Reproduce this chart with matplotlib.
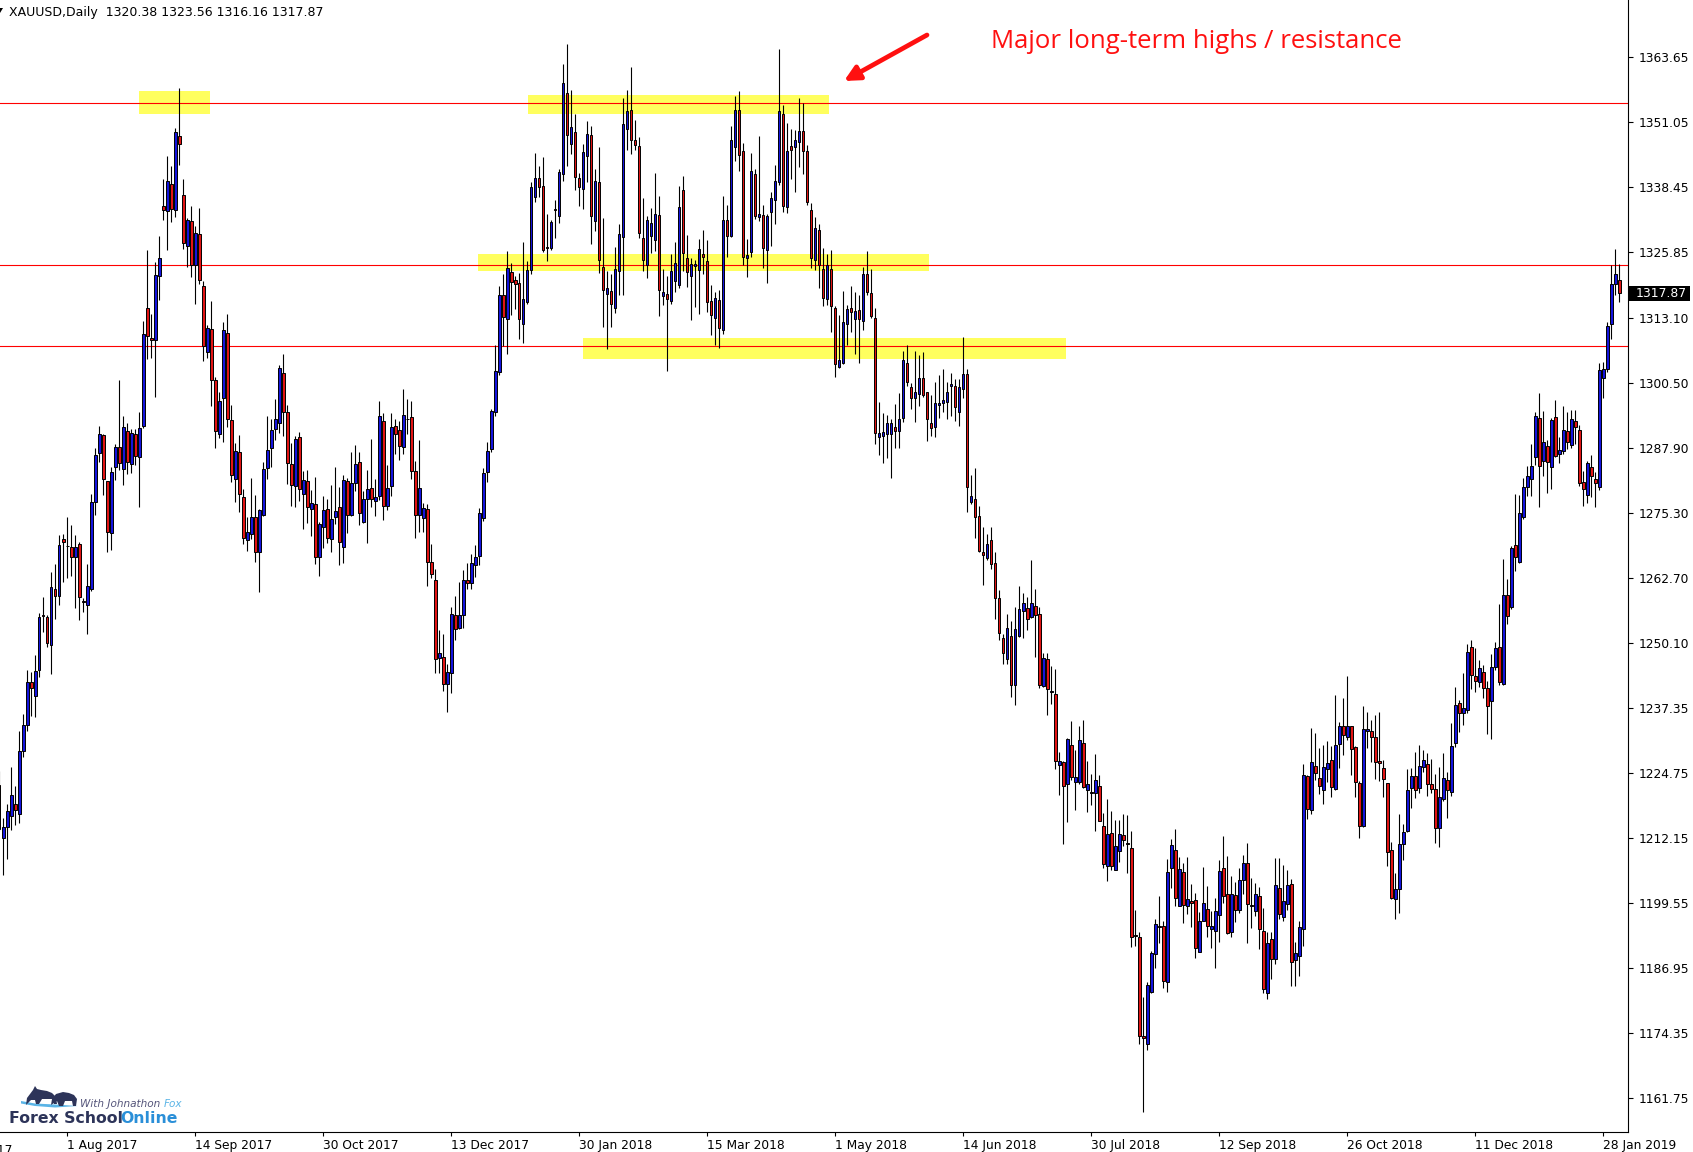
import numpy as np
import matplotlib
matplotlib.use('Agg')
import matplotlib.pyplot as plt
from matplotlib.patches import Rectangle, Polygon
from matplotlib.transforms import blended_transform_factory

W, H = 1693, 1152

# XAUUSD daily bars (first one is only partly visible at the left edge)
first_bar = -1
opens = [
    1222.5, 1212.1, 1214.3, 1216.5, 1218.8, 1216.8, 1229.0, 1234.2, 1242.4, 1239.8,
    1244.7, 1255.5, 1255.0, 1249.7, 1260.5, 1259.1, 1270.2, 1268.9, 1268.6, 1266.6,
    1269.2, 1258.2, 1257.3, 1260.5, 1277.4, 1286.8, 1290.3, 1281.4, 1271.4, 1284.1,
    1288.1, 1283.8, 1291.1, 1284.7, 1290.6, 1286.1, 1292.2, 1315.0, 1309.2, 1308.7,
    1321.3, 1334.7, 1333.8, 1339.1, 1334.1, 1348.4, 1337.0, 1327.1, 1331.9, 1323.3,
    1329.4, 1319.2, 1306.5, 1310.9, 1301.0, 1290.6, 1297.5, 1310.1, 1293.3, 1281.8,
    1287.0, 1278.4, 1269.9, 1271.2, 1274.4, 1267.7, 1274.8, 1283.9, 1287.8, 1291.6,
    1292.7, 1302.4, 1294.8, 1284.8, 1280.5, 1289.9, 1279.0, 1281.4, 1276.1, 1276.9,
    1266.7, 1272.6, 1276.1, 1270.2, 1274.4, 1276.3, 1268.7, 1281.4, 1274.8, 1281.0,
    1285.2, 1273.5, 1278.0, 1280.1, 1277.5, 1278.5, 1293.1, 1276.5, 1280.5, 1292.1,
    1291.3, 1288.0, 1293.5, 1293.9, 1283.3, 1274.9, 1274.2, 1276.1, 1265.8, 1262.3,
    1247.1, 1247.3, 1242.0, 1244.1, 1255.4, 1252.9, 1255.4, 1262.3, 1261.6, 1265.2,
    1266.8, 1274.3, 1283.2, 1287.7, 1294.8, 1302.5, 1317.5, 1312.8, 1322.0, 1320.5,
    1319.8, 1311.9, 1316.2, 1322.4, 1336.5, 1340.3, 1338.6, 1326.9, 1326.6, 1334.2,
    1332.8, 1340.9, 1356.8, 1346.9, 1349.1, 1340.3, 1338.0, 1344.4, 1348.6, 1331.9,
    1339.5, 1323.0, 1317.7, 1318.3, 1315.0, 1322.1, 1328.7, 1349.7, 1353.4, 1347.6,
    1346.4, 1328.6, 1323.4, 1328.9, 1328.1, 1333.1, 1317.3, 1317.8, 1316.3, 1320.3,
    1319.4, 1337.8, 1324.7, 1321.3, 1323.1, 1322.3, 1325.5, 1324.2, 1316.4, 1313.1,
    1316.6, 1310.7, 1332.1, 1328.9, 1346.2, 1353.5, 1345.5, 1324.7, 1325.9, 1340.9,
    1332.6, 1333.1, 1326.2, 1333.6, 1336.0, 1339.4, 1352.7, 1334.5, 1346.5, 1346.2,
    1347.3, 1349.3, 1345.5, 1334.1, 1324.4, 1330.2, 1322.6, 1316.8, 1322.6, 1315.0,
    1303.5, 1304.3, 1311.9, 1315.0, 1312.9, 1314.7, 1312.4, 1321.5, 1317.9, 1313.1,
    1290.0, 1290.2, 1290.5, 1290.5, 1292.0, 1291.2, 1293.6, 1304.3, 1299.6, 1297.5,
    1298.3, 1301.4, 1298.7, 1292.6, 1292.0, 1296.1, 1296.5, 1296.8, 1299.8, 1299.8,
    1294.9, 1299.2, 1302.2, 1277.4, 1278.0, 1274.7, 1267.6, 1266.5, 1270.0, 1265.5,
    1258.7, 1250.9, 1247.0, 1251.3, 1241.8, 1251.4, 1256.2, 1256.8, 1255.0, 1257.2,
    1255.7, 1241.7, 1247.0, 1240.6, 1240.2, 1226.3, 1226.9, 1222.6, 1230.3, 1223.0,
    1223.0, 1230.7, 1221.5, 1221.2, 1220.9, 1222.3, 1214.6, 1206.8, 1213.1, 1206.0,
    1209.6, 1212.7, 1211.1, 1210.2, 1193.3, 1192.9, 1173.8, 1172.3, 1182.4, 1189.6,
    1195.2, 1195.2, 1184.3, 1206.4, 1209.9, 1199.0, 1205.5, 1199.0, 1199.9, 1200.1,
    1190.0, 1196.1, 1198.5, 1194.5, 1194.2, 1197.3, 1206.4, 1201.4, 1193.9, 1201.2,
    1198.2, 1204.0, 1207.3, 1199.1, 1198.0, 1200.9, 1194.2, 1182.2, 1192.6, 1188.8,
    1202.4, 1196.8, 1199.3, 1203.3, 1188.6, 1189.2, 1194.5, 1224.2, 1217.7, 1226.1,
    1223.9, 1221.5, 1225.5, 1227.4, 1221.7, 1230.5, 1233.9, 1231.7, 1233.9, 1229.8,
    1222.8, 1214.6, 1233.0, 1233.0, 1231.7, 1227.1, 1225.7, 1222.8, 1209.8, 1200.4,
    1202.2, 1211.0, 1213.6, 1221.9, 1224.2, 1221.8, 1226.0, 1226.6, 1222.7, 1221.6,
    1214.1, 1219.8, 1223.4, 1221.2, 1230.7, 1238.4, 1236.5, 1237.1, 1249.3, 1243.7,
    1242.4, 1244.4, 1241.2, 1238.7, 1245.4, 1249.3, 1242.1, 1259.4, 1257.0, 1269.0,
    1265.7, 1274.4, 1280.2, 1281.8, 1286.0, 1293.7, 1285.3, 1288.2, 1284.1, 1293.9,
    1286.6, 1287.2, 1291.1, 1288.5, 1293.0, 1291.3, 1281.2, 1278.8, 1284.1, 1281.9,
    1280.3, 1301.5, 1303.1, 1311.8, 1319.6, 1320.38,
]
highs = [
    1225.2, 1216.0, 1218.7, 1226.0, 1222.2, 1233.0, 1236.2, 1244.8, 1244.3, 1247.7,
    1255.9, 1258.9, 1255.4, 1263.8, 1265.3, 1270.9, 1271.1, 1274.4, 1273.0, 1270.9,
    1269.7, 1258.7, 1265.3, 1279.0, 1287.8, 1292.2, 1290.5, 1281.5, 1284.1, 1288.7,
    1301.1, 1294.0, 1292.7, 1291.6, 1291.5, 1294.8, 1312.4, 1326.2, 1313.9, 1323.9,
    1329.0, 1340.1, 1344.5, 1342.5, 1349.9, 1357.6, 1340.0, 1332.4, 1334.8, 1330.9,
    1334.4, 1320.2, 1311.7, 1316.3, 1301.7, 1298.8, 1312.3, 1313.9, 1296.2, 1288.8,
    1290.3, 1279.9, 1274.4, 1282.1, 1278.8, 1276.0, 1285.2, 1294.0, 1293.5, 1297.3,
    1303.9, 1306.0, 1296.2, 1288.8, 1290.1, 1290.9, 1283.3, 1283.5, 1279.7, 1282.3,
    1273.5, 1278.6, 1277.9, 1280.7, 1284.1, 1280.3, 1282.6, 1282.0, 1287.1, 1288.4,
    1287.0, 1279.5, 1283.5, 1289.6, 1281.8, 1296.9, 1294.6, 1284.6, 1294.6, 1293.5,
    1293.1, 1299.2, 1297.3, 1296.9, 1285.3, 1289.4, 1277.2, 1277.0, 1269.3, 1264.4,
    1252.5, 1251.8, 1245.9, 1256.9, 1259.1, 1261.9, 1264.1, 1265.5, 1267.2, 1269.1,
    1276.2, 1283.9, 1289.0, 1295.4, 1307.8, 1319.2, 1321.5, 1326.1, 1323.7, 1321.3,
    1321.7, 1327.9, 1324.1, 1339.5, 1345.0, 1342.5, 1344.2, 1333.3, 1332.0, 1335.9,
    1342.0, 1362.3, 1366.3, 1357.2, 1352.6, 1341.2, 1346.9, 1351.2, 1350.3, 1341.9,
    1346.3, 1332.5, 1322.1, 1321.5, 1326.9, 1331.2, 1355.7, 1357.2, 1361.8, 1351.5,
    1348.2, 1336.4, 1332.8, 1334.4, 1341.2, 1336.8, 1322.6, 1321.3, 1325.5, 1327.9,
    1338.6, 1340.7, 1329.2, 1324.7, 1324.4, 1328.4, 1330.1, 1328.1, 1319.5, 1318.2,
    1318.4, 1336.8, 1335.0, 1350.4, 1356.1, 1357.0, 1347.0, 1328.4, 1345.1, 1342.0,
    1348.3, 1334.9, 1333.2, 1337.6, 1342.7, 1365.3, 1354.4, 1350.9, 1349.7, 1349.6,
    1355.7, 1354.8, 1346.7, 1335.4, 1332.6, 1331.2, 1326.7, 1325.4, 1326.2, 1315.3,
    1313.7, 1318.3, 1315.5, 1319.2, 1318.1, 1317.6, 1323.0, 1326.1, 1322.5, 1315.0,
    1296.8, 1294.6, 1294.2, 1293.4, 1296.4, 1298.6, 1306.7, 1307.9, 1300.4, 1306.7,
    1305.8, 1306.5, 1298.8, 1298.1, 1300.6, 1302.0, 1303.2, 1300.6, 1302.4, 1301.2,
    1301.2, 1309.4, 1303.1, 1282.6, 1284.0, 1276.5, 1272.5, 1271.2, 1272.6, 1267.6,
    1260.2, 1251.8, 1255.6, 1254.2, 1256.9, 1261.1, 1259.8, 1258.9, 1266.1, 1260.4,
    1256.9, 1248.0, 1248.0, 1245.5, 1245.0, 1228.8, 1227.2, 1231.5, 1234.9, 1229.3,
    1233.9, 1235.1, 1227.1, 1224.6, 1228.4, 1224.4, 1217.1, 1219.7, 1217.4, 1215.7,
    1215.7, 1216.9, 1216.7, 1213.6, 1198.3, 1194.0, 1181.4, 1184.3, 1190.3, 1196.4,
    1201.0, 1196.1, 1208.1, 1212.0, 1213.9, 1208.5, 1207.4, 1208.5, 1203.3, 1201.5,
    1197.8, 1206.5, 1202.9, 1198.0, 1200.5, 1208.0, 1212.5, 1208.6, 1204.9, 1203.7,
    1206.3, 1208.9, 1211.2, 1204.4, 1203.5, 1202.6, 1198.7, 1194.0, 1194.0, 1208.4,
    1208.4, 1207.0, 1206.0, 1204.2, 1192.1, 1196.1, 1226.5, 1224.4, 1233.5, 1232.6,
    1229.6, 1230.2, 1231.0, 1230.0, 1239.9, 1234.6, 1239.3, 1243.6, 1234.0, 1230.0,
    1223.3, 1237.7, 1236.7, 1235.1, 1236.0, 1236.7, 1227.3, 1222.9, 1211.5, 1205.3,
    1216.8, 1214.9, 1225.6, 1225.7, 1228.8, 1230.2, 1229.3, 1228.6, 1227.5, 1224.6,
    1226.0, 1228.6, 1224.9, 1234.5, 1241.5, 1238.9, 1244.1, 1249.8, 1250.5, 1249.1,
    1246.7, 1245.8, 1242.6, 1247.9, 1250.2, 1257.6, 1266.4, 1262.4, 1268.8, 1279.0,
    1278.8, 1282.1, 1284.4, 1288.6, 1294.9, 1298.5, 1295.0, 1289.3, 1293.7, 1297.1,
    1290.0, 1295.9, 1294.8, 1295.2, 1295.2, 1292.4, 1283.4, 1285.3, 1286.5, 1283.2,
    1304.4, 1304.6, 1312.2, 1323.3, 1326.5, 1323.56,
]
lows = [
    1213.5, 1205.1, 1208.2, 1213.7, 1214.8, 1215.0, 1227.9, 1233.0, 1235.9, 1235.6,
    1243.5, 1252.1, 1249.2, 1244.0, 1254.7, 1257.4, 1261.8, 1262.6, 1263.0, 1256.8,
    1254.4, 1256.1, 1251.8, 1260.1, 1274.9, 1285.1, 1278.8, 1267.6, 1268.0, 1281.6,
    1283.6, 1280.6, 1282.8, 1283.0, 1284.6, 1276.4, 1291.7, 1305.1, 1305.3, 1297.8,
    1316.6, 1332.0, 1326.3, 1331.7, 1332.6, 1342.7, 1326.5, 1322.9, 1321.0, 1315.8,
    1319.7, 1304.7, 1305.3, 1295.9, 1287.8, 1289.8, 1289.0, 1291.9, 1281.2, 1277.4,
    1275.4, 1269.2, 1267.8, 1270.2, 1265.8, 1260.0, 1274.7, 1281.8, 1284.2, 1289.4,
    1290.7, 1290.1, 1280.9, 1276.6, 1276.3, 1277.6, 1272.2, 1273.3, 1270.7, 1265.3,
    1263.1, 1268.5, 1269.4, 1267.6, 1273.1, 1265.1, 1265.5, 1271.4, 1274.7, 1279.5,
    1273.0, 1273.3, 1269.5, 1276.3, 1274.6, 1277.8, 1273.9, 1275.9, 1278.6, 1286.7,
    1285.5, 1286.7, 1290.5, 1281.8, 1270.4, 1271.6, 1271.6, 1261.0, 1262.7, 1244.1,
    1244.1, 1240.7, 1236.6, 1240.4, 1250.5, 1252.7, 1252.9, 1260.4, 1260.4, 1262.9,
    1265.1, 1273.6, 1281.3, 1287.0, 1294.0, 1302.0, 1307.6, 1306.0, 1313.7, 1314.8,
    1308.9, 1308.3, 1315.7, 1321.5, 1335.6, 1336.5, 1325.8, 1324.1, 1326.2, 1328.5,
    1331.4, 1339.7, 1342.6, 1344.8, 1337.8, 1334.7, 1334.3, 1339.4, 1327.5, 1330.0,
    1321.7, 1311.4, 1307.1, 1311.3, 1314.0, 1317.6, 1317.6, 1345.7, 1344.9, 1345.7,
    1328.6, 1322.2, 1320.9, 1325.7, 1326.1, 1313.4, 1315.6, 1302.8, 1315.8, 1318.2,
    1318.9, 1322.1, 1319.0, 1312.7, 1315.1, 1313.8, 1321.6, 1314.3, 1309.8, 1307.9,
    1307.2, 1309.9, 1324.8, 1328.7, 1343.5, 1341.5, 1323.4, 1321.1, 1324.8, 1332.3,
    1331.8, 1322.8, 1319.8, 1327.0, 1331.2, 1338.9, 1333.7, 1333.4, 1340.1, 1337.6,
    1342.3, 1340.9, 1335.0, 1322.8, 1322.4, 1318.9, 1315.3, 1315.5, 1310.3, 1301.7,
    1303.4, 1304.2, 1307.9, 1310.3, 1306.1, 1304.3, 1310.8, 1317.6, 1313.0, 1288.7,
    1286.4, 1285.0, 1285.9, 1282.1, 1287.9, 1287.9, 1292.8, 1299.9, 1295.5, 1292.9,
    1295.9, 1297.7, 1289.2, 1290.2, 1289.9, 1293.7, 1294.9, 1293.4, 1294.1, 1293.1,
    1292.1, 1297.5, 1275.4, 1277.0, 1270.3, 1267.6, 1261.3, 1266.1, 1264.4, 1254.6,
    1250.5, 1245.9, 1246.0, 1239.6, 1237.9, 1251.1, 1251.0, 1252.6, 1254.8, 1247.2,
    1241.2, 1241.4, 1236.1, 1238.1, 1225.6, 1220.6, 1211.1, 1215.2, 1223.5, 1217.6,
    1222.7, 1221.8, 1217.2, 1218.5, 1213.5, 1215.4, 1206.4, 1203.9, 1205.9, 1206.0,
    1207.6, 1210.6, 1205.3, 1191.0, 1191.3, 1172.3, 1159.1, 1171.1, 1182.2, 1187.0,
    1191.9, 1183.0, 1182.3, 1202.4, 1199.0, 1199.0, 1195.6, 1197.5, 1195.0, 1188.9,
    1190.0, 1196.0, 1192.9, 1190.8, 1187.0, 1192.1, 1199.6, 1193.6, 1192.9, 1195.9,
    1197.7, 1201.4, 1191.9, 1194.7, 1197.1, 1190.6, 1182.1, 1180.9, 1184.8, 1187.7,
    1196.4, 1196.1, 1198.2, 1183.4, 1183.4, 1185.5, 1191.2, 1215.9, 1216.8, 1223.4,
    1220.8, 1218.7, 1223.1, 1220.2, 1221.5, 1225.7, 1228.3, 1231.2, 1224.5, 1220.1,
    1212.1, 1214.4, 1229.7, 1227.0, 1223.6, 1223.3, 1220.2, 1206.7, 1200.3, 1196.4,
    1197.7, 1207.9, 1213.3, 1218.1, 1220.0, 1221.0, 1224.9, 1220.4, 1221.0, 1211.3,
    1210.5, 1219.4, 1216.0, 1220.3, 1229.9, 1232.7, 1234.1, 1236.5, 1241.0, 1240.6,
    1241.5, 1239.3, 1232.3, 1231.4, 1244.8, 1241.9, 1241.9, 1253.7, 1256.6, 1263.9,
    1265.5, 1274.1, 1278.6, 1278.6, 1284.5, 1276.4, 1282.5, 1279.2, 1279.9, 1286.0,
    1285.0, 1286.6, 1287.6, 1287.8, 1288.6, 1280.5, 1276.6, 1277.1, 1278.4, 1276.4,
    1279.7, 1297.6, 1302.6, 1309.0, 1317.5, 1316.16,
]
closes = [
    1213.9, 1214.3, 1217.5, 1220.5, 1217.6, 1229.0, 1234.1, 1242.4, 1241.3, 1244.6,
    1255.0, 1255.3, 1250.0, 1260.8, 1259.2, 1269.0, 1269.6, 1268.8, 1266.6, 1268.7,
    1258.9, 1258.0, 1261.0, 1277.4, 1286.5, 1290.5, 1281.8, 1271.6, 1283.2, 1288.1,
    1285.0, 1291.9, 1285.1, 1290.8, 1286.3, 1291.7, 1309.9, 1309.5, 1308.7, 1321.4,
    1324.7, 1334.1, 1339.7, 1334.3, 1349.1, 1346.8, 1327.7, 1332.0, 1323.3, 1329.6,
    1320.4, 1307.7, 1311.1, 1301.0, 1291.2, 1297.0, 1310.7, 1293.5, 1282.6, 1287.2,
    1279.0, 1270.4, 1271.5, 1274.4, 1267.7, 1275.9, 1283.8, 1287.5, 1291.4, 1293.5,
    1303.4, 1294.9, 1284.9, 1280.7, 1289.5, 1279.8, 1281.6, 1276.3, 1277.1, 1266.7,
    1273.1, 1275.9, 1270.4, 1274.1, 1275.6, 1269.7, 1281.6, 1274.8, 1281.1, 1284.8,
    1275.3, 1277.9, 1279.9, 1277.9, 1278.4, 1294.1, 1276.5, 1280.1, 1291.9, 1290.6,
    1288.3, 1294.2, 1293.4, 1283.4, 1274.9, 1280.0, 1276.2, 1265.8, 1263.4, 1247.0,
    1248.1, 1242.1, 1244.4, 1255.7, 1252.7, 1255.4, 1262.2, 1261.6, 1265.5, 1266.6,
    1275.3, 1283.0, 1287.3, 1295.0, 1302.7, 1317.5, 1313.2, 1322.8, 1320.0, 1319.7,
    1312.8, 1316.7, 1322.4, 1338.4, 1340.2, 1338.5, 1326.2, 1326.7, 1331.7, 1334.0,
    1341.4, 1358.6, 1348.5, 1350.2, 1340.5, 1338.5, 1345.2, 1348.8, 1332.8, 1339.7,
    1324.3, 1318.5, 1318.9, 1315.8, 1322.6, 1329.4, 1350.6, 1353.3, 1347.6, 1346.6,
    1329.5, 1324.4, 1332.1, 1331.4, 1333.2, 1318.4, 1318.2, 1316.8, 1322.2, 1323.7,
    1334.6, 1325.6, 1321.9, 1323.5, 1323.6, 1326.5, 1324.8, 1316.1, 1313.6, 1316.9,
    1311.1, 1332.1, 1328.9, 1347.6, 1353.5, 1344.6, 1324.8, 1325.3, 1341.5, 1332.8,
    1333.2, 1326.6, 1332.9, 1336.3, 1339.7, 1353.3, 1334.8, 1345.4, 1345.7, 1347.5,
    1349.4, 1345.4, 1335.6, 1324.7, 1330.6, 1323.4, 1317.0, 1323.3, 1315.3, 1304.1,
    1305.0, 1312.3, 1314.8, 1314.2, 1314.5, 1312.9, 1321.5, 1318.1, 1313.4, 1290.7,
    1290.7, 1290.9, 1292.6, 1292.6, 1291.2, 1293.4, 1305.0, 1300.7, 1297.6, 1298.7,
    1301.4, 1298.1, 1293.4, 1291.8, 1296.5, 1296.5, 1297.1, 1298.7, 1300.2, 1295.7,
    1299.6, 1302.2, 1280.2, 1278.5, 1274.4, 1267.8, 1267.0, 1269.3, 1265.3, 1258.7,
    1251.9, 1248.0, 1252.9, 1241.8, 1252.7, 1256.6, 1257.7, 1254.7, 1257.7, 1255.5,
    1241.9, 1247.1, 1241.0, 1240.7, 1227.2, 1227.2, 1222.3, 1231.4, 1224.1, 1224.1,
    1231.2, 1222.0, 1222.6, 1221.0, 1223.4, 1215.5, 1207.1, 1212.9, 1206.8, 1210.6,
    1213.0, 1211.8, 1211.0, 1192.9, 1193.2, 1173.8, 1173.3, 1183.7, 1189.8, 1195.5,
    1194.9, 1184.4, 1205.5, 1210.8, 1200.5, 1206.1, 1199.1, 1200.4, 1199.6, 1190.8,
    1196.1, 1199.6, 1195.2, 1195.2, 1198.0, 1205.7, 1201.0, 1193.7, 1201.4, 1198.3,
    1204.0, 1207.3, 1199.4, 1198.9, 1201.3, 1194.5, 1182.8, 1191.8, 1188.8, 1203.1,
    1197.4, 1200.0, 1203.1, 1188.1, 1189.8, 1194.9, 1224.4, 1217.9, 1226.9, 1224.7,
    1222.3, 1225.9, 1226.7, 1222.0, 1230.2, 1234.0, 1232.2, 1233.9, 1229.4, 1223.1,
    1214.6, 1233.3, 1233.3, 1231.7, 1227.0, 1226.7, 1223.6, 1209.5, 1200.6, 1202.3,
    1211.0, 1213.3, 1221.5, 1224.2, 1221.5, 1226.1, 1227.3, 1222.7, 1221.7, 1214.2,
    1220.1, 1223.8, 1221.4, 1230.1, 1238.0, 1236.5, 1237.4, 1248.2, 1243.9, 1242.6,
    1245.1, 1241.3, 1237.7, 1245.4, 1249.1, 1242.4, 1259.4, 1255.2, 1268.5, 1266.6,
    1275.3, 1280.3, 1282.4, 1284.3, 1294.1, 1284.4, 1289.1, 1285.1, 1293.2, 1286.2,
    1287.5, 1291.3, 1289.1, 1293.4, 1291.9, 1281.0, 1279.9, 1284.9, 1282.5, 1281.0,
    1302.9, 1303.1, 1311.5, 1319.6, 1321.6, 1317.87,
]

# axis labels
date_labels = ['16 Jun 2017', '1 Aug 2017', '14 Sep 2017', '30 Oct 2017', '13 Dec 2017',
               '30 Jan 2018', '15 Mar 2018', '1 May 2018', '14 Jun 2018', '30 Jul 2018',
               '12 Sep 2018', '26 Oct 2018', '11 Dec 2018', '28 Jan 2019']
date_first_bar = -16
date_step = 32
price_ticks = [1363.65, 1351.05, 1338.45, 1325.85, 1313.10, 1300.50, 1287.90, 1275.30,
               1262.70, 1250.10, 1237.35, 1224.75, 1212.15, 1199.55, 1186.95, 1174.35, 1161.75]

# drawn levels and highlighted zones (bar from, bar to, price low, price high)
levels = [1354.75, 1323.4, 1307.55]
zones = [(33.9, 51.7, 1352.6, 1357.0),
         (131.2, 206.4, 1352.7, 1356.3),
         (118.7, 231.4, 1322.1, 1325.4),
         (144.9, 265.6, 1305.2, 1309.1)]

BLUE = '#1414dc'
RED = '#e01414'

fig = plt.figure(figsize=(W / 100, H / 100), dpi=100)
fig.patch.set_facecolor('white')
ax = fig.add_axes([0, 20 / H, 1628 / W, 1132 / H])
ax.set_xlim(-0.825, 406.175)
ax.set_ylim(1155.15, 1374.75)

for z in zones:
    ax.add_patch(Rectangle((z[0], z[2]), z[1] - z[0], z[3] - z[2],
                           facecolor='#ffff5e', edgecolor='none', zorder=1))
for lv in levels:
    ax.axhline(lv, color='#ff0000', lw=0.8, zorder=2)

o = np.array(opens)
hi = np.array(highs)
lo = np.array(lows)
c = np.array(closes)
x = np.arange(len(o)) + first_bar
up = c >= o
body_low = np.minimum(o, c)
body_h = np.maximum(np.abs(c - o), 0.12)

ax.vlines(x, lo, hi, colors='black', lw=0.8, zorder=3)
ax.bar(x, body_h, bottom=body_low, width=0.6, color=np.where(up, BLUE, RED),
       edgecolor='black', linewidth=0.7, zorder=4)

# axes look
for s in ['top', 'left']:
    ax.spines[s].set_visible(False)
for s in ['right', 'bottom']:
    ax.spines[s].set_color('black')
    ax.spines[s].set_linewidth(0.8)
ax.yaxis.tick_right()
ax.set_yticks(price_ticks, labels=[f'{p:.2f}' for p in price_ticks])
ax.tick_params(axis='y', direction='out', length=3.5, width=0.8, pad=4, labelsize=8.8)

tick_pos = [date_first_bar + date_step * k for k in range(len(date_labels))]
ax.set_xticks(tick_pos[1:], labels=date_labels[1:])
ax.tick_params(axis='x', direction='out', length=3, width=0.8, pad=2, labelsize=8.8)
for lbl in ax.get_xticklabels():
    lbl.set_horizontalalignment('left')
ax.text(tick_pos[0], -0.0105, date_labels[0], fontsize=8.8, ha='left', va='top',
        transform=blended_transform_factory(ax.transData, ax.transAxes), clip_on=False)

# current price marker
mix = blended_transform_factory(ax.transAxes, ax.transData)
box_h = 15 / 5.155
ax.add_patch(Rectangle((1629 / 1628, closes[-1] - box_h / 2), 61 / 1628, box_h,
                       transform=mix, facecolor='black', edgecolor='none',
                       clip_on=False, zorder=6))
ax.text(1636 / 1628, closes[-1], f'{closes[-1]:.2f}', color='white', fontsize=8.9,
        ha='left', va='center', transform=mix, zorder=7)


def fx(px):
    return px / W


def fy(py):
    return 1 - py / H


# header
fig.text(fx(9), fy(12.5), 'XAUUSD,Daily  1320.38 1323.56 1316.16 1317.87',
         fontsize=9, ha='left', va='center', color='black')
fig.patches.append(Polygon([(fx(-3), fy(8)), (fx(3), fy(8)), (fx(0), fy(13))],
                           closed=True, transform=fig.transFigure, facecolor='black',
                           edgecolor='none'))

# annotation
fig.text(fx(991), fy(41), 'Major long-term highs / resistance', fontsize=18.5,
         family='Open Sans', color='#ff1010', ha='left', va='center')
ax.annotate('', xy=(844, H - 81), xycoords='figure pixels',
            xytext=(927, H - 35), textcoords='figure pixels',
            arrowprops=dict(arrowstyle='-|>,head_length=0.9,head_width=0.45',
                            color='#ff1010', lw=3.4, shrinkA=0, shrinkB=0))

# logo
navy = '#2d3459'
bull = [(26, 1105), (27, 1098), (30, 1094), (33, 1090), (35, 1086), (37, 1089), (41, 1090),
        (47, 1091), (52, 1093), (56, 1097), (57, 1104), (54, 1104), (53, 1099), (42, 1099),
        (39, 1104), (36, 1104), (35, 1100), (31, 1100)]
bear = [(51, 1105), (52, 1099), (56, 1094), (63, 1092), (69, 1093), (74, 1095), (77, 1099),
        (76, 1106), (73, 1106), (72, 1101), (65, 1101), (63, 1106), (59, 1106), (57, 1101)]
swoosh = [(21, 1101), (35, 1103.5), (55, 1104.5), (78, 1106), (55, 1107.5), (35, 1106), (21, 1103.5)]
for pts, col in [(swoosh, '#5ab4e6'), (bull, navy), (bear, navy)]:
    fig.patches.append(Polygon([(fx(a), fy(b)) for a, b in pts], closed=True,
                               transform=fig.transFigure, facecolor=col, edgecolor='none'))

fig.canvas.draw()
rend = fig.canvas.get_renderer()
t1 = fig.text(fx(80), fy(1104), 'With Johnathon ', fontsize=7.6, style='italic',
              color='#55557a', ha='left', va='center')
x_fox = t1.get_window_extent(rend).x1
fig.text(x_fox / W, fy(1104), 'Fox', fontsize=7.6, style='italic',
         color='#5ab4e6', ha='left', va='center')
t2 = fig.text(fx(9), fy(1123), 'Forex School', fontsize=11.3, fontweight='bold',
              color=navy, ha='left', va='baseline')
x_on = t2.get_window_extent(rend).x1
fig.text((x_on - 3) / W, fy(1123), 'Online', fontsize=11.3, fontweight='bold',
         color='#2a8fd8', ha='left', va='baseline')

fig.savefig('out.png', dpi=100, facecolor='white')
